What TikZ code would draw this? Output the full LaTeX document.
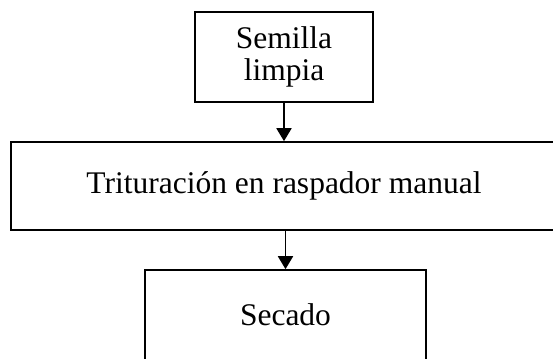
\documentclass[tikz,border=0pt]{standalone}
\usepackage{fontspec}
\setmainfont{Liberation Serif}
\usetikzlibrary{arrows.meta}
\begin{document}
\begin{tikzpicture}[x=1pt,y=-1pt,
  box/.style={draw=black,line width=1.6pt,inner sep=0pt,align=center,
    font=\fontsize{31.5}{31.5}\selectfont},
  conn/.style={line width=1.8pt,-{Triangle[width=15pt,length=13pt]}}]
\useasboundingbox (0,0) rectangle (553,358);
\clip (0,0) rectangle (553,358);
\node[box,minimum width=178pt,minimum height=90pt] (top) at (284,57) {Semilla\\limpia};
\node[box,minimum width=546pt,minimum height=88pt] (mid) at (284,186) {Trituración en raspador manual};
\node[box,minimum width=281pt,minimum height=90pt] (bot) at (285.5,315) {Secado};
\draw[conn] (top.south) -- (top.south |- mid.north);
\draw[conn] (mid.south -| bot.north) -- (bot.north);
\end{tikzpicture}
\end{document}
